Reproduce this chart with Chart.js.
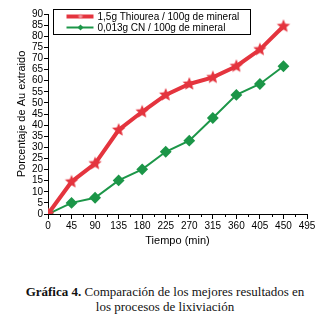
<!DOCTYPE html>
<html lang="es">
<head>
<meta charset="UTF-8">
<title>Gráfica 4</title>
<script src="https://cdn.jsdelivr.net/npm/chart.js"></script>
<style>
  body { margin: 0; background: #fff; width: 330px; height: 320px; overflow: hidden; }
  #wrap { position: relative; width: 330px; height: 262px; }
  .caption {
    font-family: "Liberation Serif", "DejaVu Serif", serif;
    font-size: 13px; line-height: 15px; text-align: center; color: #111;
    margin-top: 22px;
  }
</style>
</head>
<body>
<div id="wrap"><canvas id="myChart" width="330" height="262"></canvas></div>
<div class="caption"><b>Gráfica 4.</b> Comparación de los mejores resultados en<br>los procesos de lixiviación</div>

<script>
// time in minutes
const tiempo = [0, 45, 90, 135, 180, 225, 270, 315, 360, 405, 450]
const tiourea = [0, 14.5, 22.7, 37.8, 46, 53.6, 58.5, 61.5, 66.5, 74, 84.5]
const cianuro = [0, 5, 7.3, 15.1, 20.1, 28, 33, 43.2, 53.6, 58.5, 66.5]
const labels = ['1,5g Thiourea / 100g de mineral', '0,013g CN / 100g de mineral']

const red = 'rgb(228, 52, 62)'
const green = 'rgb(28, 150, 72)'
const tickFont = { family: "'Liberation Sans Narrow', 'Liberation Sans', Arial", size: 10 }

// filled five point star for the thiourea series
function makeStar(r, color) {
    const c = document.createElement('canvas')
    c.width = c.height = r * 2 + 2
    const g = c.getContext('2d')
    g.fillStyle = color
    g.beginPath()
    for (let i = 0; i < 10; i++) {
        const rad = i % 2 === 0 ? r : r * 0.45
        const a = -Math.PI / 2 + i * Math.PI / 5
        g.lineTo(r + 1 + rad * Math.cos(a), r + 1 + rad * Math.sin(a))
    }
    g.closePath()
    g.fill()
    return c
}
const star = makeStar(7, red)

// small ticks between the labelled ones + boxed legend
const extras = {
    id: 'extras',
    afterDraw(chart) {
        const ctx = chart.ctx
        const xs = chart.scales.x
        const bottom = chart.chartArea.bottom
        ctx.save()
        ctx.strokeStyle = '#000'
        ctx.lineWidth = 1
        for (let v = 22.5; v < 495; v += 45) {
            const px = Math.round(xs.getPixelForValue(v)) + 0.5
            ctx.beginPath()
            ctx.moveTo(px, bottom)
            ctx.lineTo(px, bottom + 3)
            ctx.stroke()
        }
        // legend box
        const lx = 53.5, ly = 9.5, lw = 197, lh = 25
        ctx.strokeRect(lx, ly, lw, lh)
        ctx.font = "10px 'Liberation Sans', Arial"
        ctx.textBaseline = 'middle'
        ctx.fillStyle = '#000'
        const rows = [
            { y: ly + 7, color: red, width: 4, marker: 'star' },
            { y: ly + 18, color: green, width: 2, marker: 'diamond' }
        ]
        rows.forEach((r, i) => {
            ctx.strokeStyle = r.color
            ctx.lineWidth = r.width
            ctx.beginPath()
            ctx.moveTo(lx + 13, r.y)
            ctx.lineTo(lx + 40, r.y)
            ctx.stroke()
            ctx.fillStyle = r.color
            if (r.marker === 'star') {
                ctx.drawImage(makeStar(3, '#f29aa0'), lx + 23, r.y - 4)
            } else {
                ctx.beginPath()
                ctx.moveTo(lx + 27, r.y - 3)
                ctx.lineTo(lx + 30, r.y)
                ctx.lineTo(lx + 27, r.y + 3)
                ctx.lineTo(lx + 24, r.y)
                ctx.closePath()
                ctx.fill()
            }
            ctx.fillStyle = '#000'
            ctx.fillText(labels[i], lx + 44, r.y + 0.5)
        })
        ctx.restore()
    }
}

const ctx = document.getElementById('myChart')
new Chart(ctx, {
    type: 'line',
    data: {
        datasets: [{
            label: labels[0],
            data: tiempo.map((t, i) => ({ x: t, y: tiourea[i] })),
            borderColor: red,
            backgroundColor: red,
            borderWidth: 4,
            pointStyle: star,
            pointRadius: 7,
            tension: 0
        }, {
            label: labels[1],
            data: tiempo.map((t, i) => ({ x: t, y: cianuro[i] })),
            borderColor: green,
            backgroundColor: green,
            borderWidth: 2,
            pointStyle: 'rectRot',
            pointRadius: 4.5,
            tension: 0
        }]
    },
    options: {
        responsive: false,
        animation: false,
        devicePixelRatio: 1,
        layout: { padding: { top: 14, right: 23, left: 15, bottom: 14 } },
        plugins: { legend: { display: false }, tooltip: { enabled: false } },
        scales: {
            x: {
                type: 'linear',
                min: 0,
                max: 495,
                grid: { drawOnChartArea: false, color: '#000', tickLength: 5 },
                border: { color: '#000' },
                ticks: { stepSize: 45, color: '#000', font: tickFont, padding: 1, maxRotation: 0, autoSkip: false },
                title: { display: true, text: 'Tiempo (min)', color: '#000', font: { family: "'Liberation Sans', Arial", size: 11 }, padding: { top: 2, bottom: 0 } },
                afterFit(scale) { scale.height = 34 }
            },
            y: {
                min: 0,
                max: 90,
                grid: { drawOnChartArea: false, color: '#000', tickLength: 4 },
                border: { color: '#000' },
                ticks: { stepSize: 5, color: '#000', font: tickFont, padding: 1, autoSkip: false },
                title: { display: true, text: 'Porcentaje de Au extraido', color: '#000', font: { family: "'Liberation Sans', Arial", size: 11 }, padding: { top: 0, bottom: 2 } },
                afterFit(scale) { scale.width = 33 }
            }
        }
    },
    plugins: [extras]
})
</script>
</body>
</html>
